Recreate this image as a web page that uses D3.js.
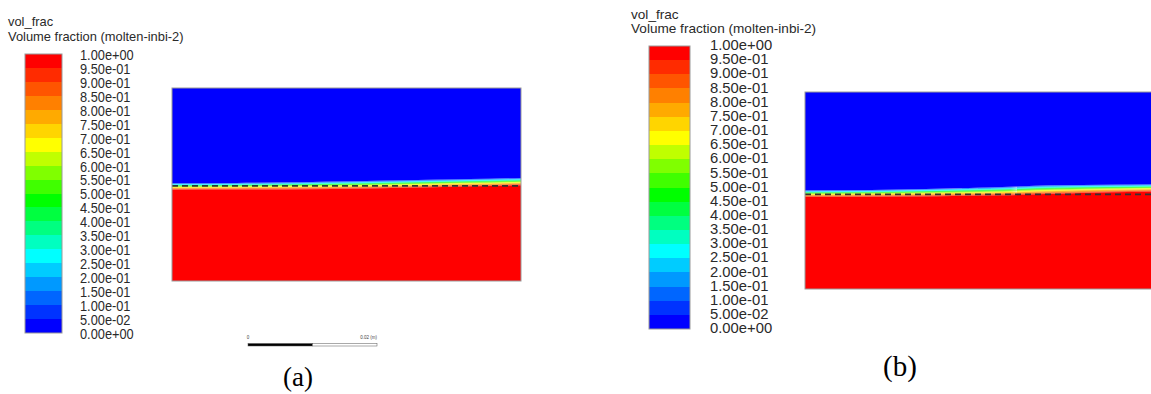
<!DOCTYPE html>
<html>
<head>
<meta charset="utf-8">
<script src="https://cdn.jsdelivr.net/npm/d3@7"></script>
<style>
  html, body { margin: 0; padding: 0; background: #fff; }
  svg { display: block; }
</style>
</head>
<body>
<svg id="chart" width="1151" height="394"></svg>
<script>
// Colour bands of the volume-fraction map, from 0 (bottom) to 1 (top)
const bandColors = ["#0000ff","#0033ff","#0066ff","#0099ff","#00ccff","#00ffff",
  "#00ffc0","#00ff80","#00ff40","#00ff00","#40ff00","#80ff00","#c0ff00","#ffff00",
  "#ffd500","#ffaa00","#ff8000","#ff5500","#ff2b00","#ff0000"];
// Colour bar tick labels, top to bottom
const tickLabels = ["1.00e+00","9.50e-01","9.00e-01","8.50e-01","8.00e-01","7.50e-01",
  "7.00e-01","6.50e-01","6.00e-01","5.50e-01","5.00e-01","4.50e-01","4.00e-01",
  "3.50e-01","3.00e-01","2.50e-01","2.00e-01","1.50e-01","1.00e-01","5.00e-02","0.00e+00"];
const tickValues = d3.range(20, -1, -1).map(k => k / 20);

// Domain size (mm) and sampling stations along the width (mm)
const domainWidth = 54, domainHeight = 30;
const stations = [0, 10, 20, 30, 38, 46, 54];
// Contour levels whose heights (mm above the bottom) are tabulated per station
const contourLevels = [0.05, 0.30, 0.50, 0.70, 0.95];

// Case (a)
const contoursA = [
  [15.20, 15.23, 15.36, 15.54, 15.70, 15.85, 16.01], // 0.05
  [14.94, 14.97, 15.08, 15.24, 15.40, 15.56, 15.72], // 0.30
  [14.76, 14.79, 14.89, 15.04, 15.19, 15.36, 15.52], // 0.50
  [14.54, 14.57, 14.65, 14.78, 14.94, 15.12, 15.28], // 0.70
  [14.18, 14.21, 14.26, 14.37, 14.52, 14.72, 14.88]  // 0.95
];
const initialLevelA = 14.8;
// Case (b)
const contoursB = [
  [15.02, 15.08, 15.28, 15.53, 15.81, 15.89, 15.96],
  [14.76, 14.82, 14.98, 15.21, 15.48, 15.59, 15.68],
  [14.59, 14.64, 14.78, 14.99, 15.25, 15.39, 15.49],
  [14.37, 14.41, 14.53, 14.72, 14.97, 15.14, 15.26],
  [14.02, 14.05, 14.12, 14.27, 14.50, 14.73, 14.88]
];
const initialLevelB = 14.42;

// Scale bar segments (m)
const scaleBarSegments = [[0, 0.01, "#000"], [0.01, 0.02, "#fff"]];

const svg = d3.select("#chart");
const FONT = "'Liberation Sans', Arial, sans-serif";
const SERIF = "'Liberation Serif', 'Times New Roman', serif";

function drawLegend(g, cfg) {
  g.append("text").attr("x", cfg.tx).attr("y", cfg.t1y)
    .attr("font-family", FONT).attr("font-size", cfg.titleSize).attr("fill", "#2a2a2a")
    .text("vol_frac");
  g.append("text").attr("x", cfg.tx).attr("y", cfg.t2y)
    .attr("font-family", FONT).attr("font-size", cfg.titleSize).attr("fill", "#2a2a2a")
    .text("Volume fraction (molten-inbi-2)");
  const y = d3.scaleLinear().domain([0, 1]).range([cfg.bottom, cfg.top]);
  g.selectAll("rect.band").data(bandColors).join("rect")
    .attr("class", "band")
    .attr("x", cfg.x0).attr("width", cfg.x1 - cfg.x0)
    .attr("y", (d, i) => y((i + 1) / 20))
    .attr("height", (d, i) => y(i / 20) - y((i + 1) / 20))
    .attr("fill", d => d)
    .attr("shape-rendering", "crispEdges");
  g.append("rect").attr("x", cfg.x0).attr("y", cfg.top)
    .attr("width", cfg.x1 - cfg.x0).attr("height", cfg.bottom - cfg.top)
    .attr("fill", "none").attr("stroke", "#999").attr("stroke-width", 1);
  g.selectAll("text.tick").data(tickValues).join("text")
    .attr("class", "tick")
    .attr("transform", d => `translate(${cfg.lx},${y(d) + cfg.labelShift}) scale(1,${cfg.labelStretch})`)
    .attr("dy", "0.35em")
    .attr("font-family", FONT).attr("font-size", cfg.labelSize).attr("fill", "#2a2a2a")
    .text((d, i) => tickLabels[i]);
}

function drawPanel(g, cfg, contours, initialLevel) {
  const x = d3.scaleLinear().domain([0, domainWidth]).range([cfg.left, cfg.right]);
  const y = d3.scaleLinear().domain([0, domainHeight]).range([cfg.bottom, cfg.top]);
  const clipId = "clip" + cfg.id;
  g.append("clipPath").attr("id", clipId).append("rect")
    .attr("x", cfg.left).attr("y", cfg.top)
    .attr("width", cfg.right - cfg.left).attr("height", cfg.bottom - cfg.top);
  const body = g.append("g").attr("clip-path", `url(#${clipId})`);

  // height of a given level at station j
  const levelHeight = (level, j) => {
    if (level <= 0) return domainHeight;
    if (level >= 1) return 0;
    const s = d3.scaleLinear().domain(contourLevels).range(contours.map(c => c[j]));
    return s(level);
  };
  const bands = bandColors.map((c, k) => ({ color: c, lo: k / 20, hi: (k + 1) / 20 }));
  const area = d3.area()
    .x(d => x(d.x))
    .y0(d => y(d.below))
    .y1(d => y(d.above))
    .curve(d3.curveMonotoneX);
  body.selectAll("path.band").data(bands).join("path")
    .attr("class", "band")
    .attr("fill", d => d.color)
    .attr("d", b => area(stations.map((sx, j) => ({
      x: sx,
      below: levelHeight(b.hi, j),
      above: levelHeight(b.lo, j)
    }))));

  // initial free-surface position
  body.append("path")
    .attr("d", d3.line()([[x(0), y(initialLevel)], [x(domainWidth), y(initialLevel)]]))
    .attr("stroke", "#333").attr("stroke-width", 1.8)
    .attr("stroke-dasharray", "6,4").attr("fill", "none");

  g.append("rect").attr("x", cfg.left).attr("y", cfg.top)
    .attr("width", cfg.right - cfg.left).attr("height", cfg.bottom - cfg.top)
    .attr("fill", "none").attr("stroke", "#9a9a9a").attr("stroke-width", 1);
}

// ---- Case (a) ----
const gA = svg.append("g");
drawLegend(gA, { tx: 8, t1y: 26, t2y: 41, titleSize: 12.9,
  x0: 25, x1: 62, top: 54, bottom: 333, lx: 80, labelSize: 12.8, labelStretch: 1.1, labelShift: 1 });
drawPanel(gA, { id: "A", left: 172, right: 521, top: 88, bottom: 281 }, contoursA, initialLevelA);

// scale bar
const sb = d3.scaleLinear().domain([0, 0.02]).range([248, 377]);
gA.selectAll("rect.sb").data(scaleBarSegments).join("rect")
  .attr("class", "sb")
  .attr("x", d => sb(d[0])).attr("width", d => sb(d[1]) - sb(d[0]))
  .attr("y", 343.5).attr("height", 2.5)
  .attr("fill", d => d[2]).attr("stroke", "#555").attr("stroke-width", 0.5);
gA.append("text").attr("x", sb(0)).attr("y", 339).attr("text-anchor", "middle")
  .attr("font-family", FONT).attr("font-size", 4.5).attr("fill", "#444").text("0");
gA.append("text").attr("x", sb(0.02)).attr("y", 339).attr("text-anchor", "end")
  .attr("font-family", FONT).attr("font-size", 4.5).attr("fill", "#444").text("0.02 (m)");
gA.append("text").attr("x", 298).attr("y", 386).attr("text-anchor", "middle")
  .attr("font-family", SERIF).attr("font-size", 27).attr("fill", "#000").text("(a)");

// ---- Case (b) ----
const gB = svg.append("g");
drawLegend(gB, { tx: 631, t1y: 18.5, t2y: 33, titleSize: 13.6,
  x0: 649, x1: 690, top: 46, bottom: 329, lx: 710, labelSize: 14.8, labelStretch: 1, labelShift: -1 });
drawPanel(gB, { id: "B", left: 805, right: 1160, top: 92, bottom: 289 }, contoursB, initialLevelB);
gB.append("text").attr("x", 900).attr("y", 376).attr("text-anchor", "middle")
  .attr("font-family", SERIF).attr("font-size", 29).attr("fill", "#000").text("(b)");
</script>
</body>
</html>
